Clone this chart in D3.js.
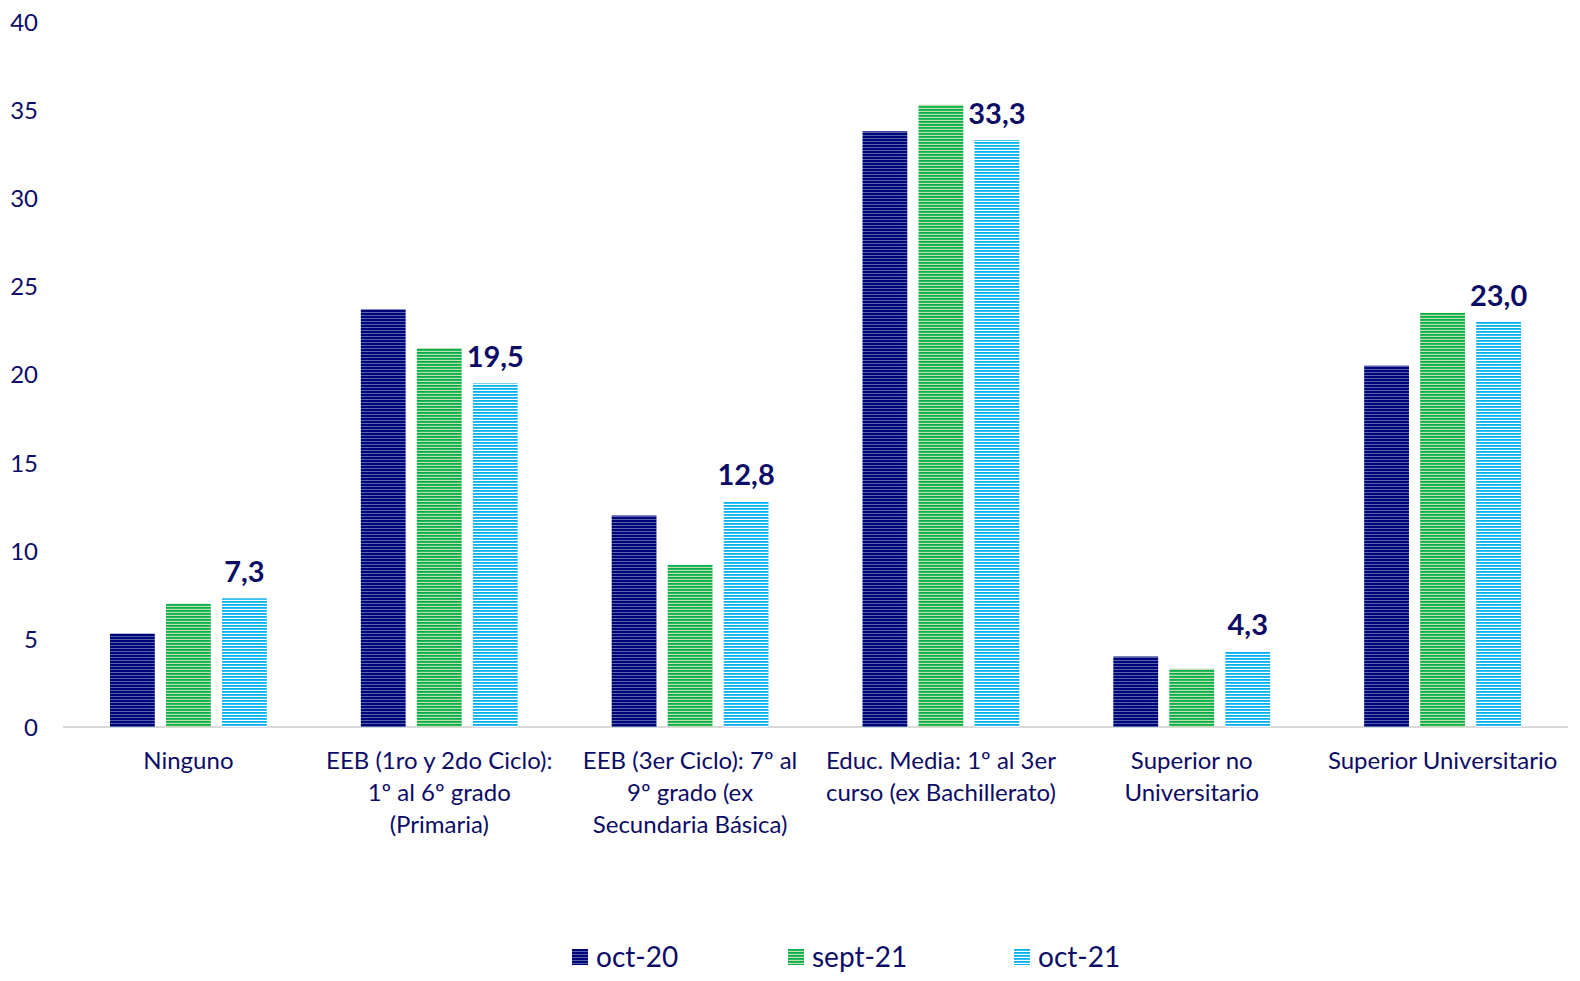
<!DOCTYPE html>
<html>
<head>
<meta charset="utf-8">
<script src="https://cdn.jsdelivr.net/npm/d3@7"></script>
<style>
  html, body { margin: 0; padding: 0; background: #fff; overflow: hidden; }
  svg { display: block; }
  svg text { font-family: Lato, "Open Sans", sans-serif; fill: #0c0c66; }
</style>
</head>
<body>
<svg id="chart_svg" width="1580" height="981"></svg>
<script>
// categories (label lines)
var categories = [
  ["Ninguno"],
  ["EEB (1ro y 2do Ciclo):", "1º al 6º grado", "(Primaria)"],
  ["EEB (3er Ciclo): 7º al", "9º grado (ex", "Secundaria Básica)"],
  ["Educ. Media: 1º al 3er", "curso (ex Bachillerato)"],
  ["Superior no", "Universitario"],
  ["Superior Universitario"]
];
var seriesNames = ["oct-20", "sept-21", "oct-21"];
var oct20 = [5.3, 23.7, 12.0, 33.8, 4.0, 20.5];
var sept21 = [7.0, 21.5, 9.2, 35.3, 3.3, 23.5];
var oct21 = [7.3, 19.5, 12.8, 33.3, 4.3, 23.0];
var yTicks = [0, 5, 10, 15, 20, 25, 30, 35, 40];

var series = [oct20, sept21, oct21];

var svg = d3.select("#chart_svg");
var margin = {top: 22, left: 63, right: 12},
  plotBottom = 727,
  width = 1580 - margin.left - margin.right,
  height = plotBottom - margin.top;

// striped patterns
var defs = svg.append("defs");
var pats = [
  {id: "p0", bg: "#4a68a8", fg: "#00007a", h: 2},
  {id: "p1", bg: "#c3dea6", fg: "#00b050", h: 1.8},
  {id: "p2", bg: "#ffffff", fg: "#00b0f0", h: 1.8}
];
pats.forEach(function(p) {
  var pt = defs.append("pattern")
    .attr("id", p.id)
    .attr("patternUnits", "userSpaceOnUse")
    .attr("width", 8).attr("height", 3);
  pt.append("rect").attr("width", 8).attr("height", 3).attr("fill", p.bg);
  pt.append("rect").attr("width", 8).attr("height", p.h).attr("fill", p.fg);
});

var g = svg.append("g")
  .attr("transform", "translate(" + margin.left + "," + margin.top + ")");

var x0 = d3.scaleBand().domain(d3.range(categories.length)).range([0, width]).padding(0);
var x1 = d3.scaleBand().domain(d3.range(3))
  .range([47, x0.bandwidth() - 47]).paddingInner(0.2).paddingOuter(0);
var y = d3.scaleLinear().domain([0, 40]).range([height, 0]);

// y axis (labels only)
var yAxis = g.append("g")
  .call(d3.axisLeft(y).tickValues(yTicks).tickSize(0).tickPadding(25));
yAxis.select(".domain").remove();
yAxis.selectAll("text")
  .style("font-size", "24px")
  .attr("fill", "#0c0c66")
  .attr("dy", "0.35em");

// baseline
g.append("line")
  .attr("x1", 0).attr("x2", width)
  .attr("y1", y(0)).attr("y2", y(0))
  .attr("stroke", "#d9d9d9").attr("stroke-width", 2);

// bars
var groups = g.selectAll(".grp")
  .data(categories)
  .enter().append("g")
  .attr("class", "grp")
  .attr("transform", function(d, i) { return "translate(" + x0(i) + ",0)"; });

groups.selectAll("rect")
  .data(function(d, i) { return series.map(function(s, k) { return {k: k, v: s[i]}; }); })
  .enter().append("rect")
  .attr("x", function(d) { return x1(d.k); })
  .attr("y", function(d) { return y(d.v); })
  .attr("width", x1.bandwidth())
  .attr("height", function(d) { return y(0) - y(d.v); })
  .attr("fill", function(d) { return "url(#p" + d.k + ")"; });

// data labels (oct-21 only)
groups.append("text")
  .attr("x", x1(2) + x1.bandwidth() / 2)
  .attr("y", function(d, i) { return y(oct21[i]) - 16; })
  .attr("text-anchor", "middle")
  .style("font-size", "29px")
  .style("font-weight", "bold")
  .text(function(d, i) { return d3.format(".1f")(oct21[i]).replace(".", ","); });

// category labels
groups.append("text")
  .attr("text-anchor", "middle")
  .style("font-size", "24px")
  .selectAll("tspan")
  .data(function(d) { return d; })
  .enter().append("tspan")
  .attr("x", x0.bandwidth() / 2)
  .attr("y", function(d, j) { return y(0) + 42 + j * 32; })
  .text(function(d) { return d; });

// legend
var legX = [572, 788, 1014];
var leg = svg.append("g").selectAll("g")
  .data(seriesNames)
  .enter().append("g")
  .attr("transform", function(d, i) { return "translate(" + legX[i] + ",949)"; });
leg.append("rect")
  .attr("width", 16).attr("height", 16)
  .attr("fill", function(d, i) { return "url(#p" + i + ")"; });
leg.append("text")
  .attr("x", 24).attr("y", 8).attr("dy", "0.35em")
  .style("font-size", "28px")
  .text(function(d) { return d; });
</script>
</body>
</html>
